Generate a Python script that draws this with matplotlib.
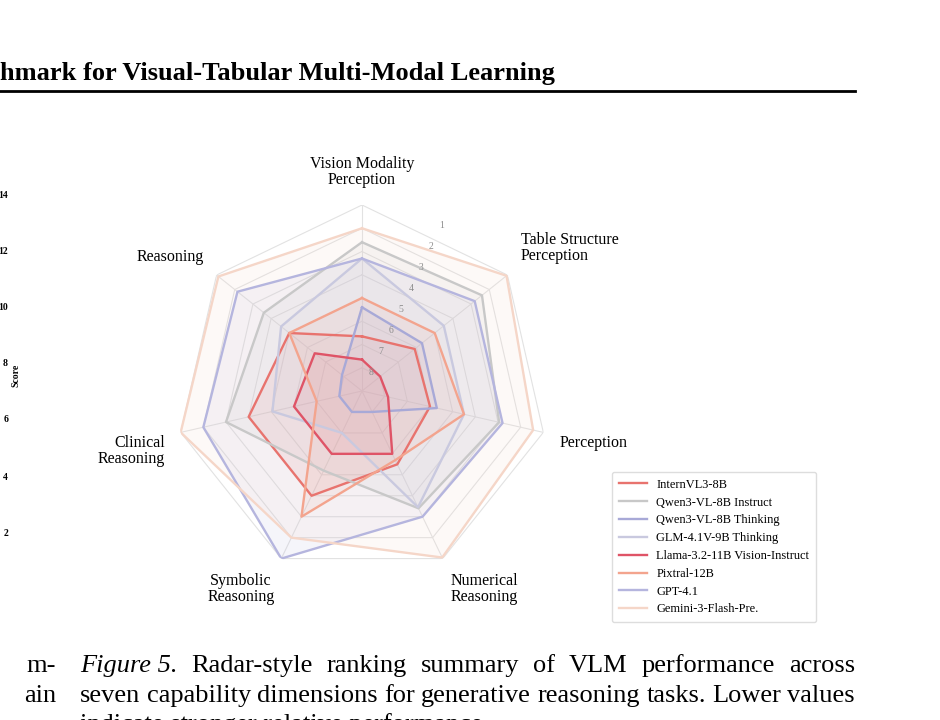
import numpy as np
import matplotlib.pyplot as plt
from matplotlib.lines import Line2D

plt.rcParams['font.family'] = ['Liberation Serif', 'DejaVu Serif']

# axes of the radar, clockwise from the top
categories = ['Vision Modality\nPerception', 'Table Structure\nPerception', 'Perception',
              'Numerical\nReasoning', 'Symbolic\nReasoning', 'Clinical\nReasoning', 'Reasoning']

# mean rank per capability (lower = better)
models = ['InternVL3-8B', 'Qwen3-VL-8B Instruct', 'Qwen3-VL-8B Thinking', 'GLM-4.1V-9B Thinking',
          'Llama-3.2-11B Vision-Instruct', 'Pixtral-12B', 'GPT-4.1', 'Gemini-3-Flash-Pre.']
internvl = [6.65, 6.1, 6.0, 5.5, 4.0, 4.0, 5.0]
qwen_instruct = [2.6, 2.4, 2.95, 3.4, 5.2, 3.0, 3.6]
qwen_thinking = [5.4, 5.7, 5.7, 8.0, 8.0, 8.0, 7.9]
glm = [3.3, 4.5, 4.5, 3.45, 7.0, 5.05, 4.55]
llama = [7.65, 8.0, 7.85, 6.0, 6.0, 6.0, 6.4]
pixtral = [5.0, 5.0, 4.5, 5.7, 3.0, 7.0, 5.0]
gpt41 = [3.3, 2.8, 2.8, 3.0, 1.0, 2.0, 2.15]
gemini = [2.0, 1.05, 1.45, 1.05, 2.0, 1.0, 1.1]
series = [internvl, qwen_instruct, qwen_thinking, glm, llama, pixtral, gpt41, gemini]
colors = ['#e8736e', '#c8c8c8', '#a8a9d7', '#c9c9df', '#df5467', '#f3a48e', '#b5b5de', '#f5d6c8']

rank_ticks = [1, 2, 3, 4, 5, 6, 7, 8]

# left column / page fragments
left_ticks = ['14', '12', '10', '8', '6', '4', '2']
left_tick_y = [195, 252, 308, 364, 420, 477, 533]

W, H = 940, 720
fig = plt.figure(figsize=(W / 100, H / 100), dpi=100)


def fx(x):
    return x / W


def fy(y):
    return 1 - y / H


# page header
fig.text(fx(0), fy(80), 'hmark for Visual-Tabular Multi-Modal Learning', fontsize=19,
         fontweight='bold', ha='left', va='baseline')
fig.add_artist(Line2D([0, fx(855)], [fy(91), fy(91)], color='black', lw=2.0))

# remains of the neighbouring chart
for lab, y in zip(left_ticks, left_tick_y):
    fig.text(fx(8), fy(y), lab, fontsize=7, fontweight='bold', ha='right', va='center')
fig.text(fx(16), fy(375), 'Score', fontsize=7, fontweight='bold', rotation=90,
         ha='center', va='center')

# radar
R = 186
cx, cy = 362, 391
ax = fig.add_axes([fx(cx - R), fy(cy + R), 2 * R / W, 2 * R / H], projection='polar')
ax.set_theta_offset(np.pi / 2)
ax.set_theta_direction(-1)
ax.set_ylim(9, 1)
ax.grid(False)
ax.spines['polar'].set_visible(False)
ax.set_xticks([])
ax.set_yticks([])
ax.patch.set_alpha(0)

angles = np.linspace(0, 2 * np.pi, len(categories), endpoint=False)
closed = np.r_[angles, angles[0]]

for lv in rank_ticks:
    ax.plot(closed, [lv] * len(closed), color='#e2e2e2', lw=0.8, zorder=1)
for a in angles:
    ax.plot([a, a], [9, 1], color='#e2e2e2', lw=0.8, zorder=1)

for vals, c, name in zip(series, colors, models):
    v = np.r_[vals, vals[0]]
    ax.fill(closed, v, color=c, alpha=0.13, lw=0, zorder=2)
    ax.plot(closed, v, color=c, lw=1.7, label=name, zorder=3)

for lv in rank_ticks:
    ax.text(np.pi / 7, lv + 0.12, str(lv), fontsize=7, color='#8c8c8c',
            ha='center', va='center', zorder=4)

# capability labels
label_pos = [(362, 172, 'center'), (521, 248, 'left'), (560, 443, 'left'), (484, 589, 'center'),
             (241, 589, 'center'), (165, 451, 'right'), (204, 257, 'right')]
for cat, (x, y, ha) in zip(categories, label_pos):
    fig.text(fx(x), fy(y), cat, fontsize=11.5, ha=ha, va='center', multialignment=ha,
             linespacing=1.05)

handles, labels = ax.get_legend_handles_labels()
fig.legend(handles, labels, loc='upper left', bbox_to_anchor=(fx(612), fy(472)),
           fontsize=8.9, frameon=True, edgecolor='#dddddd', fancybox=True,
           handlelength=2.3, handletextpad=0.75, labelspacing=0.47, borderpad=0.55,
           borderaxespad=0, framealpha=1)

# caption (justified lines)
renderer = fig.canvas.get_renderer()


def justified(segments, x0, x1, y, size):
    texts = [fig.text(0, fy(y), w, fontsize=size, style=s, va='baseline') for w, s in segments]
    widths = [t.get_window_extent(renderer).width for t in texts]
    gap = ((x1 - x0) - sum(widths)) / (len(texts) - 1)
    x = x0
    for t, w in zip(texts, widths):
        t.set_x(fx(x))
        x += w + gap


cap_size = 19
line1 = [('Figure 5.', 'italic')] + [(w, 'normal') for w in
         'Radar-style ranking summary of VLM performance across'.split()]
line2 = [(w, 'normal') for w in
         'seven capability dimensions for generative reasoning tasks. Lower values'.split()]
justified(line1, 80, 855, 672, cap_size)
justified(line2, 80, 855, 702, cap_size)
fig.text(fx(80), fy(731), 'indicate stronger relative performance.', fontsize=cap_size,
         va='baseline')

fig.text(fx(56), fy(672), 'm-', fontsize=cap_size, ha='right', va='baseline')
fig.text(fx(56), fy(702), 'ain', fontsize=cap_size, ha='right', va='baseline')

fig.savefig('out.png', dpi=100)
